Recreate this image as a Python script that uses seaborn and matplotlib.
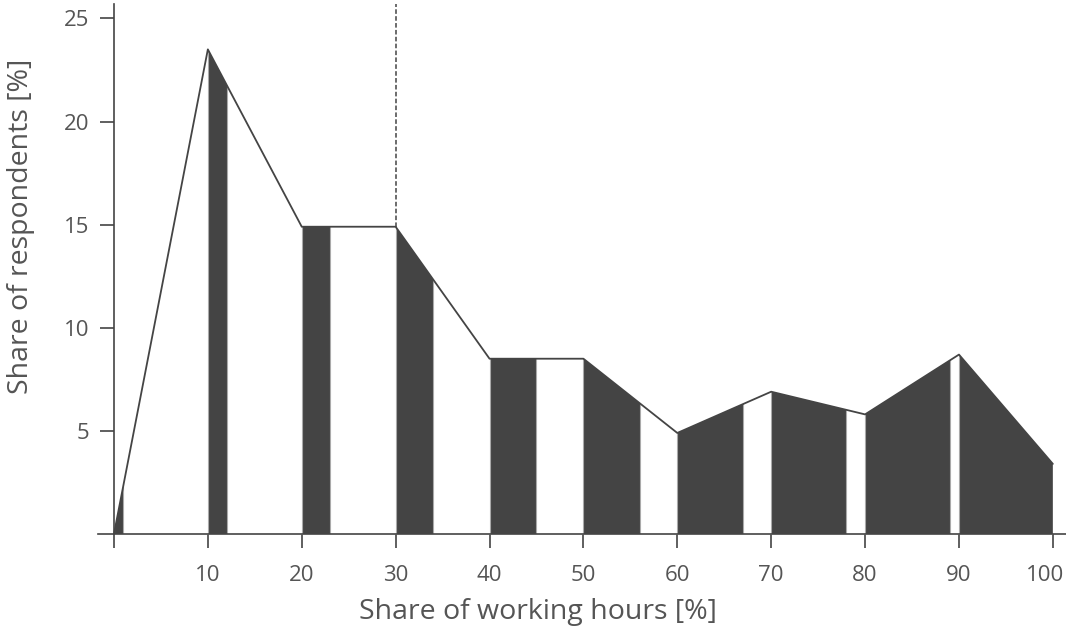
import numpy as np
import pandas as pd
import seaborn as sns
import matplotlib.pyplot as plt
from matplotlib.transforms import ScaledTranslation

# datos de la curva
hours_share = [0, 10, 20, 30, 40, 50, 60, 70, 80, 90, 100]
respondents_share = [0, 23.5, 14.9, 14.9, 8.5, 8.5, 4.9, 6.9, 5.8, 8.7, 3.4]

# franjas oscuras bajo la curva
stripe_start = [0, 10, 20, 30, 40, 50, 60, 70, 80, 90]
stripe_width = [1, 2, 3, 4, 5, 6, 7, 8, 9, 10]

x_ticks = [0, 10, 20, 30, 40, 50, 60, 70, 80, 90, 100]
x_tick_labels = ['', '10', '20', '30', '40', '50', '60', '70', '80', '90', '100']
y_ticks = [5, 10, 15, 20, 25]

df = pd.DataFrame({'hours': hours_share, 'resp': respondents_share})

sns.set_style('white')
plt.rcParams['font.family'] = ['Open Sans', 'DejaVu Sans']

dark = '#444444'
text_col = '#555555'

fig = plt.figure(figsize=(10.66, 6.32), dpi=100)
ax = fig.add_axes([98 / 1066, 1 - 534 / 632, 1 - 98 / 1066, 530 / 632])

# area bajo la curva (sirve de recorte para las franjas)
area = ax.fill_between(df['hours'], 0, df['resp'], color='white', lw=0, zorder=1)
bars = ax.bar(stripe_start, [30] * len(stripe_start), width=stripe_width, align='edge',
              color=dark, edgecolor='#aaaaaa', linewidth=0.8, zorder=2)
clip = area.get_paths()[0]
for b in bars:
    b.set_clip_path(clip, ax.transData)

sns.lineplot(data=df, x='hours', y='resp', color=dark, linewidth=1.3, ax=ax, zorder=3)

# linea discontinua en 30
ax.plot([30, 30], [14.9, 26], color=dark, linestyle=(0, (3, 1.5)), linewidth=1.1, zorder=3)

ax.set_xlim(-1.7, 101.4)
ax.set_ylim(0, 25.7)
ax.set_xticks(x_ticks)
ax.set_xticklabels(x_tick_labels)
ax.set_yticks(y_ticks)

for s in ['top', 'right']:
    ax.spines[s].set_visible(False)
ax.spines['left'].set_position(('data', 0))
for s in ['left', 'bottom']:
    ax.spines[s].set_color(dark)
    ax.spines[s].set_linewidth(1.2)

ax.tick_params(axis='both', direction='out', length=10, width=1.2, color=dark,
               labelsize=16, labelcolor=text_col, bottom=True, left=True)
ax.tick_params(axis='x', pad=12)
ax.tick_params(axis='y', pad=8)

# el "100" no cabe centrado, lo corremos un poco a la izquierda
last = ax.get_xticklabels()[-1]
last.set_transform(last.get_transform() + ScaledTranslation(-8 / 100, 0, fig.dpi_scale_trans))

ax.set_xlabel('')
ax.set_ylabel('')
fig.text(538 / 1066, 1 - 612 / 632, 'Share of working hours [%]', ha='center', va='center',
         fontsize=20.5, color=text_col)
fig.text(21 / 1066, 1 - 226 / 632, 'Share of respondents [%]', ha='center', va='center',
         rotation=90, fontsize=20.5, color=text_col)

fig.savefig('out.png', dpi=100)
